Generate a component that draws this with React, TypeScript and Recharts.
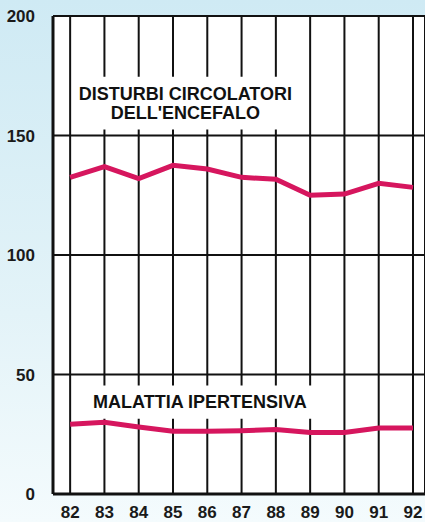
import { LineChart, Line, XAxis, YAxis, CartesianGrid, ReferenceArea } from "recharts"

const YEARS = [82, 83, 84, 85, 86, 87, 88, 89, 90, 91, 92]
const CEREBRO = [132.5, 137, 132, 137.5, 136, 132.5, 131.7, 125, 125.5, 130, 128.3]
const HYPERTENSIVE = [29.2, 30, 28, 26.3, 26.3, 26.5, 27, 25.7, 25.7, 27.6, 27.6]
const Y_TICKS = [0, 50, 100, 150, 200]

const LINE_COLOR = "#d6165e"
const FONT = "'Liberation Sans', Arial, sans-serif"

const data = YEARS.map((year, i) => ({
  year,
  cerebro: CEREBRO[i],
  hyper: HYPERTENSIVE[i],
}))

function BoxLabel({ viewBox, lines }: { viewBox?: any; lines: string[] }) {
  if (!viewBox) return null
  const { x, y, width, height } = viewBox
  const cx = x + width / 2
  const step = 19
  const top = y + height / 2 - ((lines.length - 1) * step) / 2
  return (
    <g>
      {lines.map((t, i) => (
        <text
          key={t}
          x={cx}
          y={top + i * step}
          textAnchor="middle"
          dominantBaseline="central"
          fontFamily={FONT}
          fontWeight="bold"
          fontSize={18}
          fill="#111"
        >
          {t}
        </text>
      ))}
    </g>
  )
}

export default function App() {
  const tickStyle = { fontFamily: FONT, fontWeight: "bold", fontSize: 17, fill: "#1a1a1a" }
  return (
    <div
      style={{
        position: "absolute",
        left: 0,
        top: 0,
        width: 425,
        height: 522,
        background: "linear-gradient(180deg, #cfeaf4 0%, #e3f3f8 60%, #f4fbfd 100%)",
      }}
    >
      <LineChart width={425} height={522} data={data} margin={{ top: 16, right: 0, bottom: 0, left: 0 }}>
        <CartesianGrid stroke="#111" strokeWidth={2} fill="#fff" fillOpacity={1} />
        <XAxis
          dataKey="year"
          type="number"
          domain={[81.5, 92.35]}
          ticks={YEARS}
          allowDataOverflow
          height={28}
          tickLine={false}
          axisLine={{ stroke: "#111", strokeWidth: 3 }}
          tick={tickStyle}
          tickMargin={6}
        />
        <YAxis
          domain={[0, 200]}
          ticks={Y_TICKS}
          width={53}
          tickLine={false}
          axisLine={{ stroke: "#111", strokeWidth: 3 }}
          tick={tickStyle}
          tickMargin={12}
        />
        <ReferenceArea
          x1={82.12}
          x2={88.6}
          y1={152.5}
          y2={174.6}
          fill="#fff"
          fillOpacity={1}
          stroke="none"
          label={<BoxLabel lines={["DISTURBI CIRCOLATORI", "DELL'ENCEFALO"]} />}
        />
        <ReferenceArea
          x1={82.12}
          x2={89.45}
          y1={31.5}
          y2={45.4}
          fill="#fff"
          fillOpacity={1}
          stroke="none"
          label={<BoxLabel lines={["MALATTIA IPERTENSIVA"]} />}
        />
        <Line
          dataKey="cerebro"
          stroke={LINE_COLOR}
          strokeWidth={5}
          dot={false}
          isAnimationActive={false}
        />
        <Line
          dataKey="hyper"
          stroke={LINE_COLOR}
          strokeWidth={5}
          dot={false}
          isAnimationActive={false}
        />
      </LineChart>
    </div>
  )
}
